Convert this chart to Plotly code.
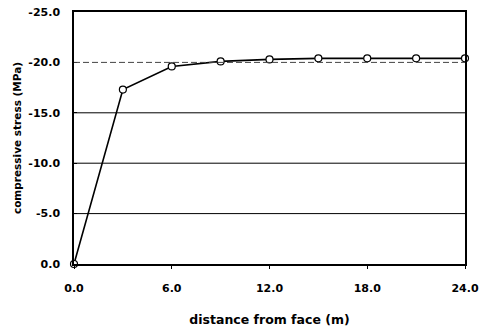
import plotly.graph_objects as go

distance = [0, 3, 6, 9, 12, 15, 18, 21, 24]
stress = [0.0, -17.3, -19.6, -20.1, -20.3, -20.4, -20.4, -20.4, -20.4]

x_ticks = [0, 6, 12, 18, 24]
x_ticktext = ["0.0", "6.0", "12.0", "18.0", "24.0"]
y_ticks = [0, -5, -10, -15, -20, -25]
y_ticktext = ["0.0", "-5.0", "-10.0", "-15.0", "-20.0", "-25.0"]
solid_grid = [-5, -10, -15]
dashed_grid = [-20]

FAM = "DejaVu Sans"
tickfont = dict(family=FAM, size=11, color="black", weight="bold")

fig = go.Figure()
for g in solid_grid:
    fig.add_hline(y=g, line=dict(color="black", width=1))
for g in dashed_grid:
    fig.add_hline(y=g, line=dict(color="#444", width=1, dash="6px,3px"))

fig.add_trace(go.Scatter(
    x=distance, y=stress, mode="lines+markers",
    line=dict(color="black", width=1.6),
    marker=dict(symbol="circle", size=7, color="white",
                line=dict(color="black", width=1.2)),
    cliponaxis=False, showlegend=False))

fig.update_layout(
    width=480, height=327,
    margin=dict(l=74, r=15, t=12, b=63),
    paper_bgcolor="white", plot_bgcolor="white",
    font=dict(family=FAM, size=11, color="black"),
    xaxis=dict(range=[0, 24], tickvals=x_ticks, ticktext=x_ticktext,
               showgrid=False, zeroline=False, showline=True, mirror=True,
               linecolor="black", linewidth=1.5, ticks="outside", ticklen=3,
               tickcolor="black", ticklabelstandoff=10, automargin=False,
               tickfont=tickfont,
               title=dict(text="<b>distance from face (m)</b>", standoff=23,
                          font=dict(family=FAM, size=12.5, color="black"))),
    yaxis=dict(range=[0, -25], tickvals=y_ticks, ticktext=y_ticktext,
               showgrid=False, zeroline=False, showline=True, mirror=True,
               linecolor="black", linewidth=1.5, ticks="inside", ticklen=3,
               tickcolor="black",
               ticklabelstandoff=10, automargin=False,
               tickfont=tickfont,
               title=dict(text="<b>compressive stress (MPa)</b>", standoff=5,
                          font=dict(family=FAM, size=10.5, color="black"))),
)

fig.write_html("out.html")
